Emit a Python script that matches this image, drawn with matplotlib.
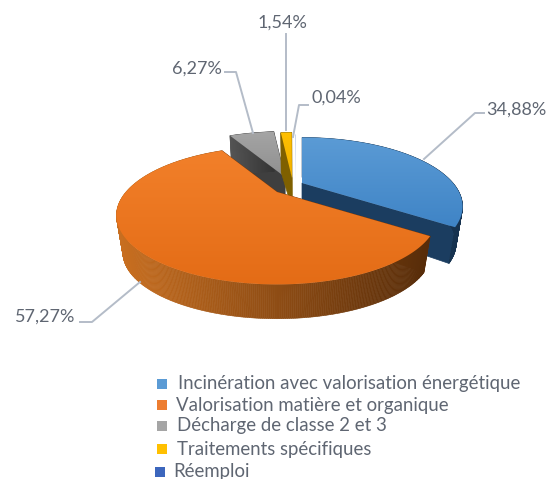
import numpy as np
import matplotlib
matplotlib.use("Agg")
import matplotlib.pyplot as plt
from matplotlib.patches import Polygon, Rectangle
from matplotlib.colors import to_rgb

plt.rcParams['font.family'] = ['Lato', 'DejaVu Sans']

categories = ["Incinération avec valorisation énergétique", "Valorisation matière et organique",
              "Décharge de classe 2 et 3", "Traitements spécifiques", "Réemploi"]
values = [34.88, 57.27, 6.27, 1.54, 0.04]

colors_top = ["#5b9bd5", "#f2802a", "#a5a5a5", "#ffc000", "#4472c4"]
colors_top2 = ["#3f84c6", "#e46c16", "#8f8f8f", "#f0b000", "#2f5fb5"]
colors_face = ["#1b3d60", "#7a3a0a", "#3f3f3f", "#7f6000", "#203864"]
colors_rim_a = ["#1f4468", "#c96f20", "#555555", "#7f6000", "#203864"]
colors_rim_b = ["#16324f", "#572c09", "#333333", "#7f6000", "#203864"]
legend_colors = ["#5b9bd5", "#ed7d31", "#a5a5a5", "#ffc000", "#3c66bd"]

# slice apex positions in pixels (exploded pie)
centers = [(302, 183), (277, 192), (285, 177), (292, 178), (296, 180)]
draw_order = [2, 3, 4, 0, 1]

RX, RY, K = 151, 61, 0.34
DEPTH = 38
BOTTOM_SCALE = 0.96

leaders = [[(424, 159), (475, 113), (484, 113)],
           [(140, 282), (92, 322), (80, 322)],
           [(253, 133), (236, 72), (225, 72)],
           [(286, 130), (286, 34)],
           [(293, 137), (299, 105), (308, 105)]]
label_pos = [(486, 110), (15, 317), (172, 69), (258, 23), (311, 98)]
legend_y = [384, 405, 426, 449, 472]
legend_box_x = [157, 157, 157, 157, 155]
legend_text_x = [178, 176, 177, 177, 173]


def project(c, ang, scale=1.0, depth=0):
    # ang in degrees, clockwise from the top of the pie
    a = np.radians(ang)
    u, v = np.sin(a), np.cos(a)
    w = 1 / (1 + K * v)
    return np.column_stack([c[0] + scale * RX * u * w, c[1] + depth - scale * RY * v * w])


fig = plt.figure(figsize=(5.52, 4.79), dpi=100)
ax = fig.add_axes([0, 0, 1, 1])
ax.set_xlim(0, 552)
ax.set_ylim(479, 0)
ax.axis('off')

edges = np.concatenate([[0], np.cumsum(values) / sum(values) * 360])

for i in draw_order:
    c = centers[i]
    span = edges[i + 1] - edges[i]
    th = np.linspace(edges[i], edges[i + 1], max(3, int(span * 2)))
    top = project(c, th)
    bot = project(c, th, BOTTOM_SCALE, DEPTH)
    apex_b = (c[0], c[1] + DEPTH * 0.8)

    # the smallest slice is too thin to show any wall
    if span > 1:
        # radial faces
        for k in [0, -1]:
            ax.add_patch(Polygon([c, top[k], bot[k], apex_b], fc=colors_face[i], ec=colors_face[i], lw=0.5))

        # outer wall, dark toward the right
        a = np.array(to_rgb(colors_rim_a[i]))
        b = np.array(to_rgb(colors_rim_b[i]))
        order = np.argsort(np.cos(np.radians(th[:-1])))[::-1]
        xmin, xmax = top[:, 0].min(), top[:, 0].max()
        for j in order:
            f = (top[j, 0] - xmin) / max(xmax - xmin, 1)
            col = a + (b - a) * f
            ax.add_patch(Polygon([top[j], top[j + 1], bot[j + 1], bot[j]], fc=col, ec=col, lw=0.4))

    # top surface with vertical gradient
    poly = Polygon(np.vstack([[c], top]), fc='none', ec='none')
    ax.add_patch(poly)
    ca = np.array(to_rgb(colors_top[i]))
    cb = np.array(to_rgb(colors_top2[i]))
    grad = np.linspace(0, 1, 64)[:, None, None] * (cb - ca)[None, None, :] + ca
    y0, y1 = top[:, 1].min() - 1, max(top[:, 1].max(), c[1]) + 1
    x0, x1 = top[:, 0].min() - 1, max(top[:, 0].max(), c[0]) + 1
    im = ax.imshow(grad, extent=[x0, x1, y1, y0], aspect='auto', zorder=poly.get_zorder())
    im.set_clip_path(poly)
    ax.set_xlim(0, 552)
    ax.set_ylim(479, 0)

for i in range(len(values)):
    xs, ys = zip(*leaders[i])
    ax.plot(xs, ys, color="#b4bcc8", lw=1.4, solid_joinstyle='round', zorder=5)
    txt = f"{values[i]:.2f}%".replace(".", ",")
    ax.text(label_pos[i][0], label_pos[i][1], txt, fontsize=13, color="#5f6672",
            ha='left', va='center', zorder=6)

for i in range(len(categories)):
    ax.add_patch(Rectangle((legend_box_x[i], legend_y[i] - 5), 10, 10, fc=legend_colors[i], ec='none', zorder=5))
    ax.text(legend_text_x[i], legend_y[i], categories[i], fontsize=13.4, color="#5f6672",
            ha='left', va='center', zorder=6)

fig.savefig("out.png", dpi=100)
